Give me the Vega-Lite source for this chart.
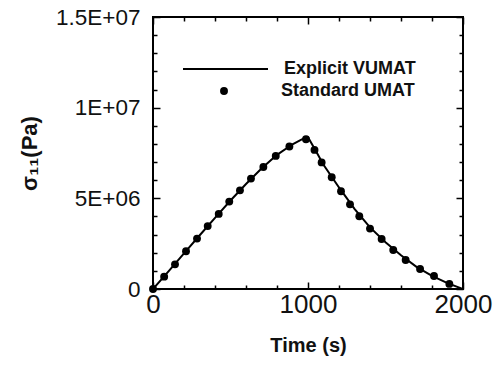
{
  "$schema": "https://vega.github.io/schema/vega-lite/v6.json",
  "width": 310,
  "height": 272,
  "autosize": {"type": "none"},
  "padding": {"left": 153, "top": 17, "right": 40, "bottom": 78},
  "background": "white",
  "config": {
    "view": {"stroke": "black", "strokeWidth": 2},
    "font": "Liberation Sans",
    "axis": {"grid": false, "domain": false, "ticks": true, "tickColor": "black", "tickWidth": 1.5, "labelColor": "#111", "titleColor": "#111", "labelFont": "Liberation Sans", "titleFont": "Liberation Sans"}
  },
  "data": {
    "values": [
      {"series": "Explicit VUMAT", "t": 0, "s": 0},
      {"series": "Explicit VUMAT", "t": 100, "s": 970000},
      {"series": "Explicit VUMAT", "t": 200, "s": 1960000},
      {"series": "Explicit VUMAT", "t": 300, "s": 2950000},
      {"series": "Explicit VUMAT", "t": 400, "s": 3920000},
      {"series": "Explicit VUMAT", "t": 500, "s": 4880000},
      {"series": "Explicit VUMAT", "t": 600, "s": 5790000},
      {"series": "Explicit VUMAT", "t": 700, "s": 6640000},
      {"series": "Explicit VUMAT", "t": 800, "s": 7400000},
      {"series": "Explicit VUMAT", "t": 900, "s": 7980000},
      {"series": "Explicit VUMAT", "t": 960, "s": 8250000},
      {"series": "Explicit VUMAT", "t": 1000, "s": 8370000},
      {"series": "Explicit VUMAT", "t": 1050, "s": 7620000},
      {"series": "Explicit VUMAT", "t": 1100, "s": 6850000},
      {"series": "Explicit VUMAT", "t": 1200, "s": 5600000},
      {"series": "Explicit VUMAT", "t": 1300, "s": 4420000},
      {"series": "Explicit VUMAT", "t": 1400, "s": 3400000},
      {"series": "Explicit VUMAT", "t": 1500, "s": 2580000},
      {"series": "Explicit VUMAT", "t": 1600, "s": 1860000},
      {"series": "Explicit VUMAT", "t": 1700, "s": 1220000},
      {"series": "Explicit VUMAT", "t": 1800, "s": 720000},
      {"series": "Explicit VUMAT", "t": 1900, "s": 320000},
      {"series": "Explicit VUMAT", "t": 2000, "s": 0},
      {"series": "Standard UMAT", "t": 0, "s": 0},
      {"series": "Standard UMAT", "t": 72, "s": 680000},
      {"series": "Standard UMAT", "t": 142, "s": 1360000},
      {"series": "Standard UMAT", "t": 213, "s": 2080000},
      {"series": "Standard UMAT", "t": 284, "s": 2780000},
      {"series": "Standard UMAT", "t": 353, "s": 3470000},
      {"series": "Standard UMAT", "t": 424, "s": 4140000},
      {"series": "Standard UMAT", "t": 492, "s": 4820000},
      {"series": "Standard UMAT", "t": 561, "s": 5440000},
      {"series": "Standard UMAT", "t": 632, "s": 6090000},
      {"series": "Standard UMAT", "t": 712, "s": 6730000},
      {"series": "Standard UMAT", "t": 792, "s": 7340000},
      {"series": "Standard UMAT", "t": 880, "s": 7860000},
      {"series": "Standard UMAT", "t": 987, "s": 8260000},
      {"series": "Standard UMAT", "t": 1042, "s": 7670000},
      {"series": "Standard UMAT", "t": 1088, "s": 6980000},
      {"series": "Standard UMAT", "t": 1153, "s": 6160000},
      {"series": "Standard UMAT", "t": 1213, "s": 5390000},
      {"series": "Standard UMAT", "t": 1271, "s": 4670000},
      {"series": "Standard UMAT", "t": 1331, "s": 4010000},
      {"series": "Standard UMAT", "t": 1400, "s": 3330000},
      {"series": "Standard UMAT", "t": 1475, "s": 2760000},
      {"series": "Standard UMAT", "t": 1550, "s": 2150000},
      {"series": "Standard UMAT", "t": 1630, "s": 1600000},
      {"series": "Standard UMAT", "t": 1723, "s": 1100000},
      {"series": "Standard UMAT", "t": 1813, "s": 720000},
      {"series": "Standard UMAT", "t": 1912, "s": 280000}
    ]
  },
  "layer": [
    {
      "transform": [{"filter": "datum.series == 'Explicit VUMAT'"}],
      "mark": {"type": "line", "strokeWidth": 2, "clip": true},
      "encoding": {
        "x": {
          "field": "t", "type": "quantitative",
          "scale": {"domain": [0, 2000], "nice": false},
          "axis": {
            "orient": "bottom",
            "values": [0, 1000, 2000],
            "format": "d",
            "tickSize": -7,
            "labelPadding": 9,
            "labelFontSize": 26,
            "labelFlush": false,
            "title": "Time (s)",
            "titleFontSize": 20,
            "titleFontWeight": "bold",
            "titlePadding": 18
          }
        },
        "y": {
          "field": "s", "type": "quantitative",
          "scale": {"domain": [0, 15000000], "nice": false},
          "axis": {
            "orient": "left",
            "values": [0, 5000000, 10000000, 15000000],
            "labelExpr": "datum.value == 0 ? '0' : datum.value == 5000000 ? '5E+06' : datum.value == 10000000 ? '1E+07' : '1.5E+07'",
            "tickSize": -7,
            "labelPadding": 20,
            "labelFontSize": 22.5,
            "labelFlush": false,
            "title": "σ₁₁(Pa)",
            "titleFontSize": 22,
            "titleFontWeight": "bold",
            "titlePadding": 14
          }
        },
        "color": {
          "field": "series", "type": "nominal",
          "scale": {"range": ["black"]},
          "legend": {
            "orient": "none", "legendX": 29, "legendY": 8.5, "padding": 0,
            "title": null,
            "symbolType": "stroke", "symbolSize": 7225, "symbolStrokeWidth": 2, "symbolStrokeColor": "black",
            "labelFont": "Liberation Sans", "labelFontSize": 18, "labelFontWeight": "bold", "labelColor": "#111",
            "labelOffset": 15
          }
        }
      }
    },
    {
      "transform": [{"filter": "datum.series == 'Standard UMAT'"}],
      "mark": {"type": "point", "filled": true, "size": 62, "opacity": 1, "color": "black"},
      "encoding": {
        "x": {
          "field": "t", "type": "quantitative",
          "axis": {"orient": "top", "values": [0, 1000, 2000], "labels": false, "title": null, "tickSize": -7}
        },
        "y": {
          "field": "s", "type": "quantitative",
          "axis": {"orient": "right", "values": [0, 5000000, 10000000, 15000000], "labels": false, "title": null, "tickSize": -7}
        },
        "shape": {
          "field": "series", "type": "nominal",
          "scale": {"range": ["circle"]},
          "legend": {
            "orient": "none", "legendX": 62, "legendY": 65, "padding": 0,
            "title": null,
            "symbolSize": 62, "symbolFillColor": "black", "symbolStrokeWidth": 0,
            "labelFont": "Liberation Sans", "labelFontSize": 18, "labelFontWeight": "bold", "labelColor": "#111",
            "labelOffset": 48
          }
        }
      }
    },
    {
      "transform": [{"filter": "datum.series == 'Explicit VUMAT'"}],
      "mark": {"type": "line", "opacity": 0},
      "encoding": {
        "x": {
          "field": "t", "type": "quantitative",
          "axis": {"orient": "bottom", "values": [200, 400, 600, 800, 1200, 1400, 1600, 1800], "labels": false, "title": null, "tickSize": -4}
        },
        "y": {
          "field": "s", "type": "quantitative",
          "axis": {"orient": "left", "values": [1000000, 2000000, 3000000, 4000000, 6000000, 7000000, 8000000, 9000000, 11000000, 12000000, 13000000, 14000000], "labels": false, "title": null, "tickSize": -4}
        }
      }
    },
    {
      "transform": [{"filter": "datum.series == 'Standard UMAT'"}],
      "mark": {"type": "point", "opacity": 0},
      "encoding": {
        "x": {
          "field": "t", "type": "quantitative",
          "axis": {"orient": "top", "values": [200, 400, 600, 800, 1200, 1400, 1600, 1800], "labels": false, "title": null, "tickSize": -4}
        },
        "y": {
          "field": "s", "type": "quantitative",
          "axis": {"orient": "right", "values": [1000000, 2000000, 3000000, 4000000, 6000000, 7000000, 8000000, 9000000, 11000000, 12000000, 13000000, 14000000], "labels": false, "title": null, "tickSize": -4}
        }
      }
    }
  ],
  "resolve": {"axis": {"x": "independent", "y": "independent"}}
}
